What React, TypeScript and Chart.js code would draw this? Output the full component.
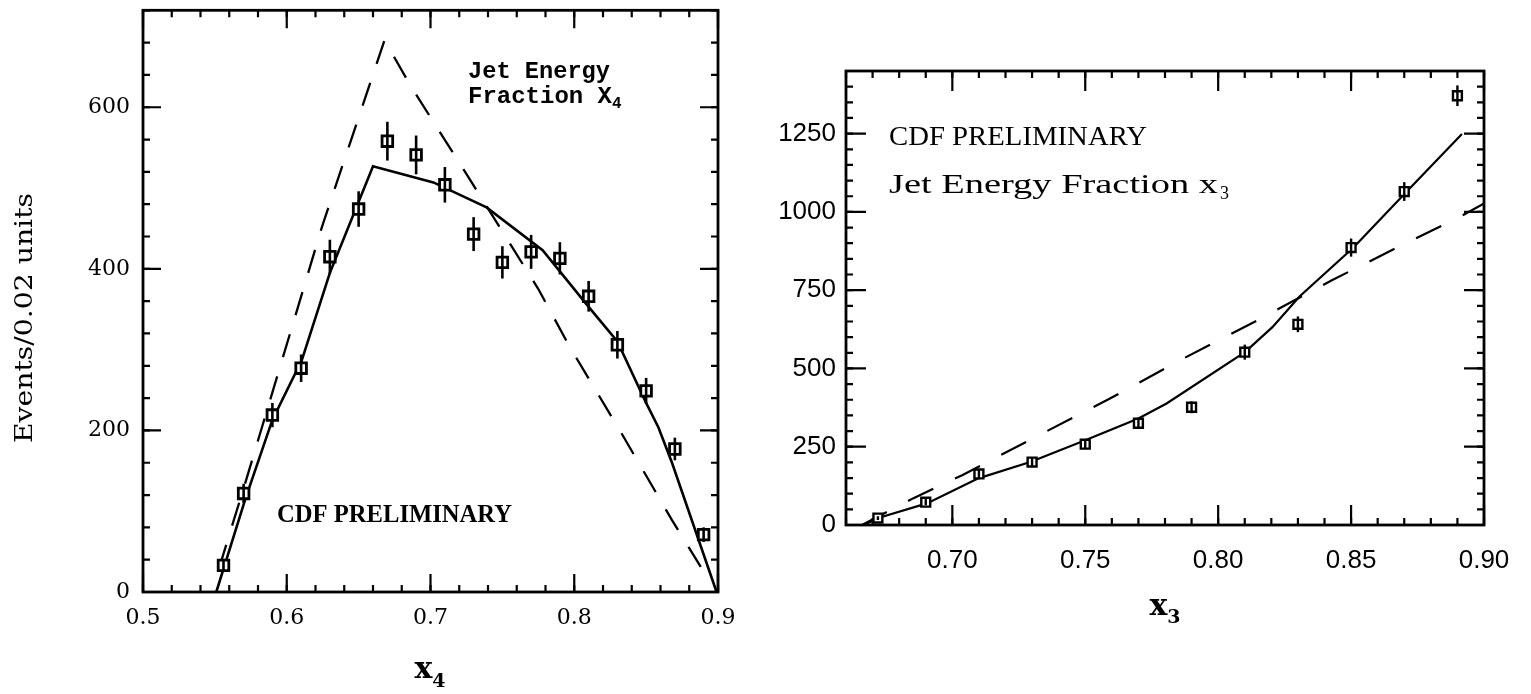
import React, { useEffect, useRef } from "react";
import { Chart, registerables } from "chart.js";

Chart.register(...registerables);

// ---------------- Left panel : jet energy fraction x4 ----------------
const X4_BIN_CENTERS = [0.556, 0.57, 0.59, 0.61, 0.63, 0.65, 0.67, 0.69, 0.71, 0.73, 0.75, 0.77, 0.79, 0.81, 0.83, 0.85, 0.87, 0.89];
const X4_EVENTS = [33, 122, 219, 277, 415, 474, 558, 541, 504, 443, 408, 421, 413, 366, 306, 249, 177, 71];
const X4_ERRORS = [8, 12, 15, 17, 21, 22, 24, 24, 22, 21, 20, 21, 20, 19, 17, 16, 14, 9];
const X4_SOLID_X = [0.551, 0.571, 0.59, 0.6105, 0.63, 0.66, 0.702, 0.739, 0.778, 0.81, 0.83, 0.85, 0.8585, 0.868, 0.899];
const X4_SOLID_Y = [0, 114, 213, 287, 395, 527, 507, 476, 423, 353, 310, 234, 204, 160, 0];
const X4_DASHED_X = [0.553, 0.572, 0.6245, 0.668, 0.687, 0.7255, 0.775, 0.797, 0.8327, 0.868, 0.888];
const X4_DASHED_Y = [30, 140, 452, 683, 624, 516, 375, 303, 197, 89, 31];
const X4_TICK_VALUES = [0.5, 0.6, 0.7, 0.8, 0.9];
const X4_TICK_LABELS = ["0.5", "0.6", "0.7", "0.8", "0.9"];
const X4_MINOR_STEP = 0.02;
const Y4_TICK_VALUES = [0, 200, 400, 600];
const Y4_TICK_LABELS = ["0", "200", "400", "600"];
const Y4_MINOR_STEP = 40;
const X4_MIN = 0.5;
const X4_MAX = 0.9;
const Y4_MIN = 0;
const Y4_MAX = 720;

// ---------------- Right panel : jet energy fraction x3 ----------------
const X3_BIN_CENTERS = [0.672, 0.69, 0.71, 0.73, 0.75, 0.77, 0.79, 0.81, 0.83, 0.85, 0.87, 0.89];
const X3_EVENTS = [22, 73, 163, 201, 258, 325, 376, 552, 641, 886, 1065, 1371];
const X3_ERRORS = [6, 10, 14, 14, 16, 18, 19, 24, 25, 29, 30, 33];
const X3_SOLID_X = [0.6665, 0.674, 0.6904, 0.7098, 0.7296, 0.75, 0.77, 0.7806, 0.8102, 0.8204, 0.8306, 0.851, 0.8713, 0.8917];
const X3_SOLID_Y = [0, 27, 69, 149, 202, 271, 340, 388, 553, 632, 730, 887, 1068, 1249];
const X3_DASHED_X = [0.666, 0.6852, 0.7037, 0.7315, 0.7593, 0.787, 0.8148, 0.8426, 0.8713, 0.8907, 0.9009];
const X3_DASHED_Y = [0, 85, 159, 282, 404, 532, 654, 781, 903, 983, 1031];
const X3_TICK_VALUES = [0.7, 0.75, 0.8, 0.85, 0.9];
const X3_TICK_LABELS = ["0.70", "0.75", "0.80", "0.85", "0.90"];
const X3_MINOR_STEP = 0.01;
const Y3_TICK_VALUES = [0, 250, 500, 750, 1000, 1250];
const Y3_TICK_LABELS = ["0", "250", "500", "750", "1000", "1250"];
const Y3_MINOR_STEP = 50;
const X3_MIN = 0.66;
const X3_MAX = 0.9;
const Y3_MIN = 0;
const Y3_MAX = 1450;

function stepsBetween(min: number, max: number, step: number): number[] {
  const out: number[] = [];
  const n = Math.round((max - min) / step);
  for (let i = 0; i <= n; i++) out.push(Math.round((min + i * step) * 1e6) / 1e6);
  return out;
}

const framePlugin = {
  id: "frameTicks",
  afterDatasetsDraw(chart: any, _args: any, opts: any) {
    const { ctx, chartArea: a, scales } = chart;
    const xs = scales.x;
    const ys = scales.y;
    ctx.save();
    ctx.strokeStyle = "#000";
    ctx.lineWidth = opts.frameWidth;
    ctx.strokeRect(a.left, a.top, a.right - a.left, a.bottom - a.top);
    ctx.lineWidth = opts.tickWidth;
    const xTicks = (vals: number[], len: number) => {
      vals.forEach((v) => {
        const px = xs.getPixelForValue(v);
        ctx.beginPath();
        ctx.moveTo(px, a.bottom);
        ctx.lineTo(px, a.bottom - len);
        ctx.moveTo(px, a.top);
        ctx.lineTo(px, a.top + len);
        ctx.stroke();
      });
    };
    const yTicks = (vals: number[], len: number) => {
      vals.forEach((v) => {
        const py = ys.getPixelForValue(v);
        ctx.beginPath();
        ctx.moveTo(a.left, py);
        ctx.lineTo(a.left + len, py);
        ctx.moveTo(a.right, py);
        ctx.lineTo(a.right - len, py);
        ctx.stroke();
      });
    };
    xTicks(opts.xMinor, opts.minorLen);
    yTicks(opts.yMinor, opts.minorLen);
    xTicks(opts.xMajor, opts.majorLen);
    yTicks(opts.yMajor, opts.majorLen);
    ctx.restore();
  },
};

const errorBarPlugin = {
  id: "errorBars",
  afterDatasetsDraw(chart: any, _args: any, opts: any) {
    const { ctx, scales } = chart;
    const ys = scales.y;
    chart.data.datasets.forEach((ds: any, di: number) => {
      if (!ds.errors) return;
      const meta = chart.getDatasetMeta(di);
      ctx.save();
      ctx.strokeStyle = "#000";
      ctx.lineWidth = opts.width;
      meta.data.forEach((pt: any, i: number) => {
        const v = ds.data[i].y;
        const e = ds.errors[i];
        ctx.beginPath();
        ctx.moveTo(pt.x, ys.getPixelForValue(v - e));
        ctx.lineTo(pt.x, ys.getPixelForValue(v + e));
        ctx.stroke();
      });
      ctx.restore();
    });
  },
};

const textPlugin = {
  id: "panelText",
  afterDraw(chart: any, _args: any, opts: any) {
    const ctx = chart.ctx;
    (opts.items || []).forEach((it: any) => {
      ctx.save();
      ctx.fillStyle = "#000";
      ctx.textBaseline = "alphabetic";
      ctx.textAlign = "left";
      ctx.font = it.font;
      const mainW = ctx.measureText(it.text).width;
      const sx = it.width ? it.width / mainW : 1;
      let subW = 0;
      if (it.sub) {
        ctx.font = it.subFont;
        subW = ctx.measureText(it.sub).width + (it.subGap || 0);
      }
      const total = mainW * sx + subW;
      ctx.translate(it.x, it.y);
      if (it.rotate) ctx.rotate(it.rotate);
      const x0 = it.align === "center" ? -total / 2 : 0;
      ctx.font = it.font;
      ctx.save();
      ctx.translate(x0, 0);
      ctx.scale(sx, 1);
      ctx.fillText(it.text, 0, 0);
      ctx.restore();
      if (it.sub) {
        ctx.font = it.subFont;
        ctx.fillText(it.sub, x0 + mainW * sx + (it.subGap || 0), it.subDy || 0);
      }
      ctx.restore();
    });
  },
};

function toPoints(xs: number[], ys: number[]) {
  return xs.map((x, i) => ({ x, y: ys[i] }));
}

function makeConfig(p: any): any {
  const zeroPad = (s: any) => {
    s.paddingLeft = 0;
    s.paddingRight = 0;
    s.paddingTop = 0;
    s.paddingBottom = 0;
  };
  return {
    type: "line",
    data: {
      datasets: [
        {
          label: "data",
          data: toPoints(p.centers, p.events),
          errors: p.errors,
          showLine: false,
          pointStyle: "rect",
          pointRadius: p.pointRadius,
          pointBorderWidth: p.pointBorder,
          pointBackgroundColor: "#fff",
          pointBorderColor: "#000",
        },
        {
          label: "solid",
          data: toPoints(p.solidX, p.solidY),
          borderColor: "#000",
          borderWidth: p.solidWidth,
          pointRadius: 0,
          tension: 0,
          fill: false,
        },
        {
          label: "dashed",
          data: toPoints(p.dashedX, p.dashedY),
          borderColor: "#000",
          borderWidth: p.dashedWidth,
          borderDash: p.dash,
          pointRadius: 0,
          tension: 0,
          fill: false,
        },
      ],
    },
    options: {
      responsive: false,
      animation: false,
      devicePixelRatio: 1,
      layout: { padding: p.padding },
      plugins: {
        legend: { display: false },
        tooltip: { enabled: false },
        frameTicks: {
          frameWidth: 2.8,
          tickWidth: 2.2,
          majorLen: p.majorLen,
          minorLen: p.minorLen,
          xMajor: p.xTicks,
          yMajor: p.yTicks,
          xMinor: stepsBetween(p.xMin, p.xMax, p.xMinorStep),
          yMinor: stepsBetween(p.yMin, p.yMax, p.yMinorStep),
        },
        errorBars: { width: p.errWidth },
        panelText: { items: p.texts },
      },
      scales: {
        x: {
          type: "linear",
          min: p.xMin,
          max: p.xMax,
          grid: { display: false, drawTicks: false },
          border: { display: false },
          ticks: {
            color: "#000",
            font: p.tickFont,
            padding: p.xPad,
            maxRotation: 0,
            autoSkip: false,
            callback: (_v: any, i: number) => p.xLabels[i],
          },
          afterBuildTicks: (s: any) => {
            s.ticks = p.xTicks.map((v: number) => ({ value: v }));
          },
          afterFit: (s: any) => {
            s.height = p.xAxisHeight;
            zeroPad(s);
          },
        },
        y: {
          type: "linear",
          min: p.yMin,
          max: p.yMax,
          grid: { display: false, drawTicks: false },
          border: { display: false },
          ticks: {
            color: "#000",
            font: p.tickFont,
            padding: p.yPad,
            autoSkip: false,
            callback: (_v: any, i: number) => p.yLabels[i],
          },
          afterBuildTicks: (s: any) => {
            s.ticks = p.yTicks.map((v: number) => ({ value: v }));
          },
          afterFit: (s: any) => {
            s.width = p.yAxisWidth;
            zeroPad(s);
          },
        },
      },
    },
    plugins: [framePlugin, errorBarPlugin, textPlugin],
  };
}

const LEFT_W = 760;
const RIGHT_W = 771;
const H = 694;

export default function App() {
  const leftRef = useRef<HTMLCanvasElement | null>(null);
  const rightRef = useRef<HTMLCanvasElement | null>(null);

  useEffect(() => {
    const left = new Chart(
      leftRef.current as HTMLCanvasElement,
      makeConfig({
        centers: X4_BIN_CENTERS,
        events: X4_EVENTS,
        errors: X4_ERRORS,
        solidX: X4_SOLID_X,
        solidY: X4_SOLID_Y,
        dashedX: X4_DASHED_X,
        dashedY: X4_DASHED_Y,
        xTicks: X4_TICK_VALUES,
        xLabels: X4_TICK_LABELS,
        yTicks: Y4_TICK_VALUES,
        yLabels: Y4_TICK_LABELS,
        xMin: X4_MIN,
        xMax: X4_MAX,
        yMin: Y4_MIN,
        yMax: Y4_MAX,
        xMinorStep: X4_MINOR_STEP,
        yMinorStep: Y4_MINOR_STEP,
        pointRadius: 7.5,
        pointBorder: 2.8,
        errWidth: 2.6,
        solidWidth: 2.6,
        dashedWidth: 2.3,
        dash: [24, 20],
        majorLen: 18,
        minorLen: 7,
        padding: { left: 0, top: 10, right: LEFT_W - 718, bottom: 0 },
        xAxisHeight: H - 592,
        yAxisWidth: 143,
        tickFont: { family: "'DejaVu Serif', serif", size: 22 },
        xPad: 13,
        yPad: 13,
        texts: [
          { text: "Events/0.02 units", x: 32, y: 318, rotate: -Math.PI / 2, align: "center", font: "25px 'DejaVu Serif'", width: 250 },
          { text: "Jet Energy", x: 468, y: 78, font: "bold 24px 'Liberation Mono'", width: 142 },
          { text: "Fraction X", sub: "4", x: 468, y: 103, font: "bold 24px 'Liberation Mono'", width: 144, subFont: "bold 16px 'Liberation Mono'", subDy: 5 },
          { text: "CDF PRELIMINARY", x: 277, y: 522, font: "bold 25px 'Liberation Serif'", width: 235 },
          { text: "x", sub: "4", x: 430, y: 678, align: "center", font: "bold 30px 'DejaVu Serif'", subFont: "bold 19px 'DejaVu Serif'", subDy: 9 },
        ],
      })
    );
    const right = new Chart(
      rightRef.current as HTMLCanvasElement,
      makeConfig({
        centers: X3_BIN_CENTERS,
        events: X3_EVENTS,
        errors: X3_ERRORS,
        solidX: X3_SOLID_X,
        solidY: X3_SOLID_Y,
        dashedX: X3_DASHED_X,
        dashedY: X3_DASHED_Y,
        xTicks: X3_TICK_VALUES,
        xLabels: X3_TICK_LABELS,
        yTicks: Y3_TICK_VALUES,
        yLabels: Y3_TICK_LABELS,
        xMin: X3_MIN,
        xMax: X3_MAX,
        yMin: Y3_MIN,
        yMax: Y3_MAX,
        xMinorStep: X3_MINOR_STEP,
        yMinorStep: Y3_MINOR_STEP,
        pointRadius: 6.3,
        pointBorder: 2.4,
        errWidth: 2.4,
        solidWidth: 2.2,
        dashedWidth: 2.2,
        dash: [28, 24],
        majorLen: 20,
        minorLen: 7,
        padding: { left: 0, top: 71, right: RIGHT_W - 724, bottom: 0 },
        xAxisHeight: H - 525,
        yAxisWidth: 86,
        tickFont: { family: "'Liberation Sans', Arial, sans-serif", size: 26 },
        xPad: 20,
        yPad: 10,
        texts: [
          { text: "CDF PRELIMINARY", x: 129, y: 145, font: "27px 'Liberation Serif'", width: 258 },
          { text: "Jet Energy Fraction x", sub: "3", x: 129, y: 193, font: "27px 'Liberation Serif'", width: 329, subFont: "18px 'Liberation Serif'", subDy: 6, subGap: 2 },
          { text: "x", sub: "3", x: 405, y: 615, align: "center", font: "bold 30px 'DejaVu Serif'", subFont: "bold 19px 'DejaVu Serif'", subDy: 8 },
        ],
      })
    );
    return () => {
      left.destroy();
      right.destroy();
    };
  }, []);

  return (
    <div style={{ position: "absolute", left: 0, top: 0, width: 1531, height: H, background: "#fff", overflow: "hidden" }}>
      <canvas ref={leftRef} width={LEFT_W} height={H} style={{ position: "absolute", left: 0, top: 0, width: LEFT_W, height: H }} />
      <canvas ref={rightRef} width={RIGHT_W} height={H} style={{ position: "absolute", left: LEFT_W, top: 0, width: RIGHT_W, height: H }} />
    </div>
  );
}
